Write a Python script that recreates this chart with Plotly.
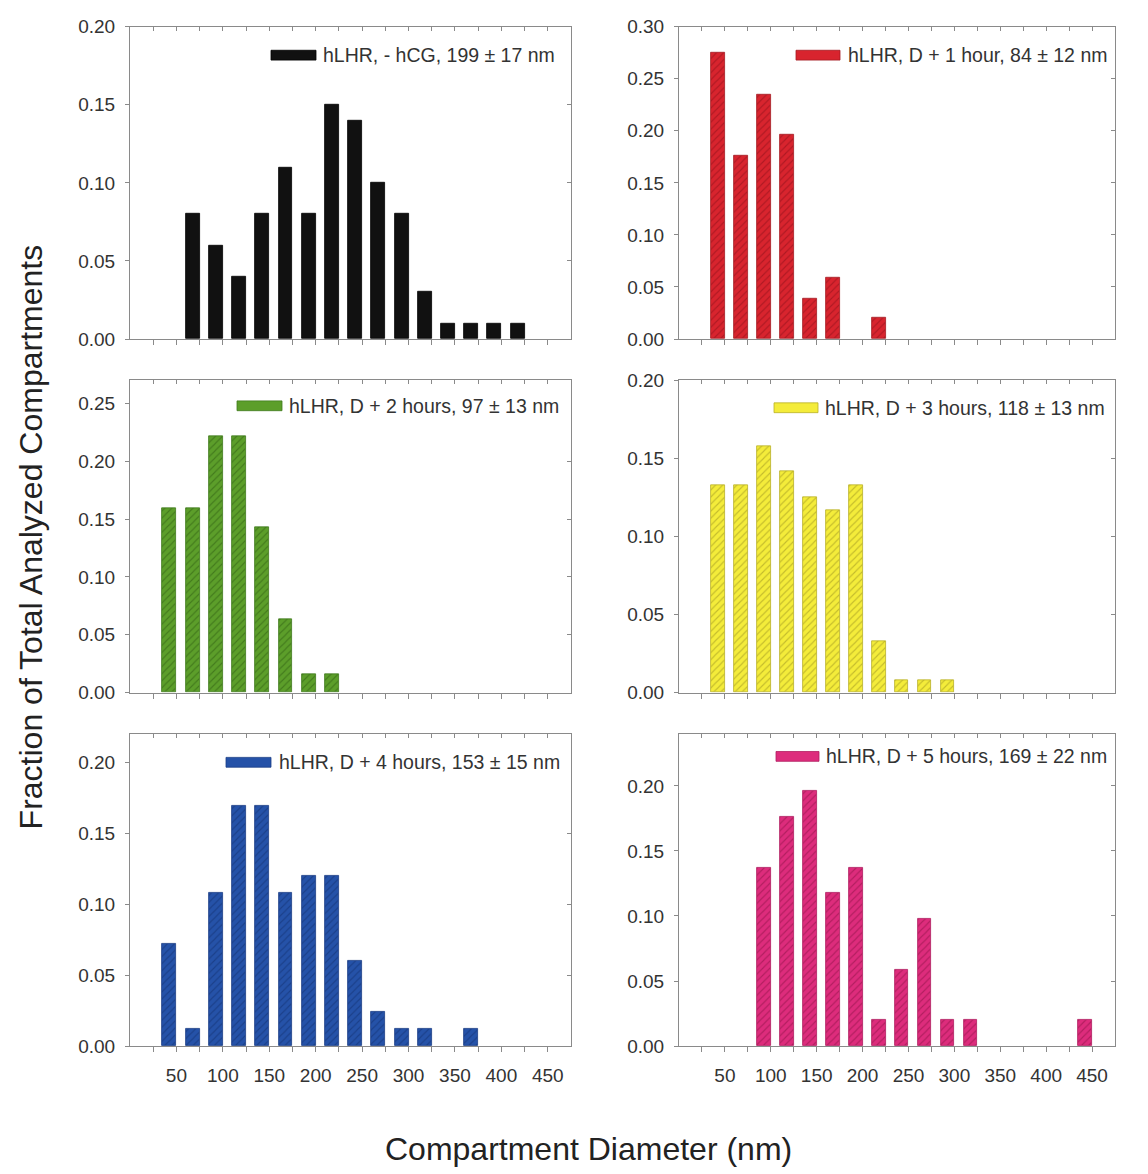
import plotly.graph_objects as go

W, H = 1148, 1174

# Compartment diameter bins: each bar is drawn ending at its upper bin edge (nm)
X_TICKS = list(range(25, 475, 25))
X_LABELS = [str(v) if v % 50 == 0 else "" for v in X_TICKS]

no_hcg_x = [75, 100, 125, 150, 175, 200, 225, 250, 275, 300, 325, 350, 375, 400, 425]
no_hcg_y = [0.08, 0.06, 0.04, 0.08, 0.11, 0.08, 0.15, 0.14, 0.10, 0.08, 0.03, 0.01, 0.01, 0.01, 0.01]

hour1_x = [50, 75, 100, 125, 150, 175, 225]
hour1_y = [0.275, 0.176, 0.235, 0.196, 0.039, 0.059, 0.020]

hour2_x = [50, 75, 100, 125, 150, 175, 200, 225]
hour2_y = [0.159, 0.159, 0.222, 0.222, 0.143, 0.063, 0.016, 0.016]

hour3_x = [50, 75, 100, 125, 150, 175, 200, 225, 250, 275, 300]
hour3_y = [0.133, 0.133, 0.158, 0.142, 0.125, 0.117, 0.133, 0.033, 0.008, 0.008, 0.008]

hour4_x = [50, 75, 100, 125, 150, 175, 200, 225, 250, 275, 300, 325, 375]
hour4_y = [0.072, 0.012, 0.108, 0.169, 0.169, 0.108, 0.120, 0.120, 0.060, 0.024, 0.012, 0.012, 0.012]

hour5_x = [100, 125, 150, 175, 200, 225, 250, 275, 300, 325, 450]
hour5_y = [0.137, 0.176, 0.196, 0.118, 0.137, 0.020, 0.059, 0.098, 0.020, 0.020, 0.020]

labels = [
    "hLHR, - hCG, 199 ± 17 nm",
    "hLHR, D + 1 hour, 84 ± 12 nm",
    "hLHR, D + 2 hours, 97 ± 13 nm",
    "hLHR, D + 3 hours, 118 ± 13 nm",
    "hLHR, D + 4 hours, 153 ± 15 nm",
    "hLHR, D + 5 hours, 169 ± 22 nm",
]
y_max = [0.20, 0.30, 0.27, 0.20, 0.22, 0.24]

series = [
    (no_hcg_x, no_hcg_y),
    (hour1_x, hour1_y),
    (hour2_x, hour2_y),
    (hour3_x, hour3_y),
    (hour4_x, hour4_y),
    (hour5_x, hour5_y),
]

# fill, hatch line, outline, hatch shape
styles = [
    ("#111111", "#111111", "#000000", ""),
    ("#d8242e", "#8e1018", "#a51a22", "/"),
    ("#5c9e2a", "#2f5e12", "#3f7a1c", "/"),
    ("#f4ec3a", "#9c9420", "#b8b02a", "/"),
    ("#2552a8", "#123070", "#1a3d85", "/"),
    ("#dd2c7c", "#8e1247", "#b01d5f", "/"),
]

# panel boxes in pixels: (left, right, top, bottom)
cols = [(130, 571), (679, 1115)]
rows = [(17, 335), (377, 695), (737, 1055)]

# legend geometry in pixels: swatch left, swatch right, centre y, text right edge
legend_px = [
    (271, 316, 46, 557),
    (796, 840, 46, 1109),
    (237, 282, 403, 561),
    (774, 818, 405, 1107),
    (226, 271, 766, 562),
    (776, 819, 760, 1109),
]

TEXT = "#333333"
AXIS = "#8a8a8a"
FONT = "Arial, Liberation Sans, sans-serif"


def px_x(v):
    return v / W


def px_y(v):
    return 1 - v / H


fig = go.Figure()
layout = {}
shapes = []
annotations = []

for i in range(6):
    k = i + 1
    kt = i + 7
    r, c = divmod(i, 2)
    (l, rr), (t, b) = cols[c], rows[r]
    xs, ys = series[i]
    fill, hatch, edge, shape = styles[i]

    fig.add_trace(go.Bar(
        x=xs, y=ys,
        xaxis=f"x{k}", yaxis=f"y{k}",
        width=15, offset=-15,
        marker=dict(
            color=fill,
            line=dict(color=edge, width=0.8),
            pattern=dict(shape=shape, fgcolor=hatch, fgopacity=0.55,
                         size=5, solidity=0.22),
        ),
        showlegend=False,
        hoverinfo="x+y",
    ))
    # empty companion trace so the top/right frame axes get a subplot
    fig.add_trace(go.Scatter(
        x=[], y=[], xaxis=f"x{kt}", yaxis=f"y{kt}",
        showlegend=False, hoverinfo="skip",
    ))

    xdom = [px_x(l), px_x(rr)]
    ydom = [px_y(b), px_y(t)]
    yticks = [round(0.05 * j, 2) for j in range(int(round(y_max[i] / 0.05)) + 1)]
    bottom_row = r == 2

    layout[f"xaxis{k}"] = dict(
        domain=xdom, anchor=f"y{k}", range=[0, 475],
        tickmode="array", tickvals=X_TICKS,
        ticktext=X_LABELS if bottom_row else [""] * len(X_TICKS),
        ticks="outside", ticklen=5, tickcolor=AXIS, tickwidth=1,
        showline=True, linecolor=AXIS, linewidth=1,
        showgrid=False, zeroline=False,
        tickfont=dict(family=FONT, size=19, color=TEXT),
        ticklabelstandoff=7,
    )
    layout[f"yaxis{k}"] = dict(
        domain=ydom, anchor=f"x{k}", range=[0, y_max[i]],
        tickmode="array", tickvals=yticks, tickformat=".2f",
        ticks="outside", ticklen=4, tickcolor=AXIS, tickwidth=1,
        showline=True, linecolor=AXIS, linewidth=1,
        showgrid=False, zeroline=False,
        tickfont=dict(family=FONT, size=19, color=TEXT),
        ticklabelstandoff=6,
    )
    # top and right frame edges carry inward ticks
    layout[f"xaxis{kt}"] = dict(
        overlaying=f"x{k}", anchor=f"y{kt}", side="top", range=[0, 475],
        tickmode="array", tickvals=X_TICKS, showticklabels=False,
        ticks="inside", ticklen=4, tickcolor=AXIS, tickwidth=1,
        showline=True, linecolor=AXIS, linewidth=1,
        showgrid=False, zeroline=False,
    )
    layout[f"yaxis{kt}"] = dict(
        overlaying=f"y{k}", anchor=f"x{kt}", side="right", range=[0, y_max[i]],
        tickmode="array", tickvals=yticks[1:-1], showticklabels=False,
        ticks="inside", ticklen=4, tickcolor=AXIS, tickwidth=1,
        showline=True, linecolor=AXIS, linewidth=1,
        showgrid=False, zeroline=False,
    )

    sx0, sx1, cy, tr = legend_px[i]
    shapes.append(dict(
        type="rect", xref="paper", yref="paper",
        x0=px_x(sx0), x1=px_x(sx1), y0=px_y(cy + 5), y1=px_y(cy - 5),
        fillcolor=fill, line=dict(color=edge, width=0.8), layer="above",
    ))
    annotations.append(dict(
        text=labels[i], xref="paper", yref="paper",
        x=px_x(tr), y=px_y(cy), xanchor="right", yanchor="middle",
        showarrow=False, font=dict(family=FONT, size=19.5, color=TEXT),
    ))

annotations.append(dict(
    text="Compartment Diameter (nm)", xref="paper", yref="paper",
    x=px_x(588), y=px_y(1160), xanchor="center", yanchor="middle",
    showarrow=False, font=dict(family=FONT, size=32, color="#222222"),
))
annotations.append(dict(
    text="Fraction of Total Analyzed Compartments", xref="paper", yref="paper",
    x=px_x(31), y=px_y(537), xanchor="center", yanchor="middle", textangle=-90,
    showarrow=False, font=dict(family=FONT, size=32, color="#222222"),
))

fig.update_layout(
    width=W, height=H,
    margin=dict(l=0, r=0, t=0, b=0),
    paper_bgcolor="white", plot_bgcolor="white",
    showlegend=False,
    bargap=0,
    shapes=shapes,
    annotations=annotations,
    **layout,
)

fig.write_html("out.html")
